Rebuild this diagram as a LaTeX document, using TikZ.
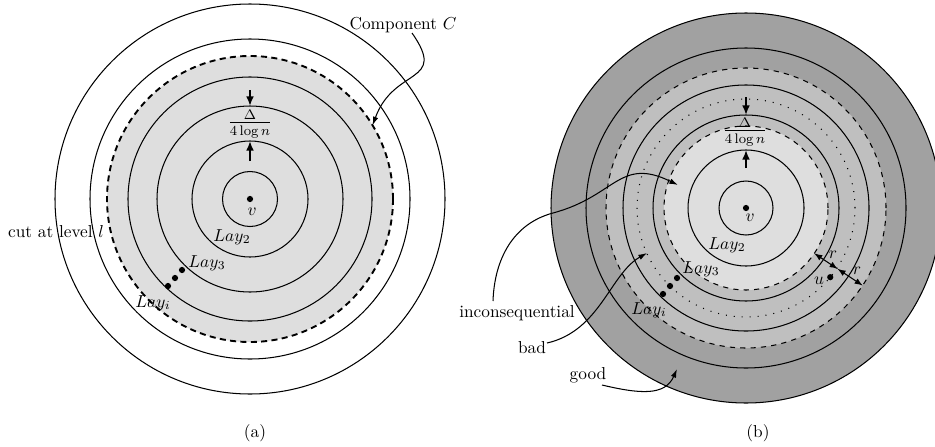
\documentclass[tikz,border=0pt]{standalone}
\usepackage{tikz}
\usetikzlibrary{arrows,arrows.meta,calc}

\begin{document}
\begin{tikzpicture}[x=0.578pt,y=0.578pt,
 ring/.style={semithick},
 cut line/.style={line width=1.1pt,dash pattern=on 3.5pt off 2.5pt},
 thin dash/.style={semithick,dashed},
 dot line/.style={semithick,loosely dotted},
 gap arrow/.style={-{Latex[length=5.5pt,width=4.5pt]},line width=1.2pt},
 pointer/.style={-{Latex[length=5pt,width=3.2pt]},semithick},
 dot/.style={circle,fill=black,inner sep=0pt,minimum size=3.6pt}]
\useasboundingbox (0,0) rectangle (935,446);
%(a)
  \coordinate (A) at (250,247);
  \fill[black!13] (A) circle (143);
  \foreach \r in {27.5,58,93,122,160,195} \draw[ring] (A) circle (\r);
  \draw[cut line] (A) circle (143);
  \node[dot] (va) at (A) {};
  \node (vlaba) at (252,234) {$v$};
  \node (lay2a) at (232,209) {$Lay_2$};
  \node (lay3a) at (207,183) {$Lay_3$};
  \node (layia) at (153,143) {$Lay_i$};
  \node[dot] (d1a) at (182,176) {};
  \node[dot] (d2a) at (175,168) {};
  \node[dot] (d3a) at (168,160) {};
  \node (fraca) at (250,322) {\large$\frac{\Delta}{4\log n}$};
  \coordinate (ta) at (250,356);
  \coordinate (ba) at (250,285);
  \draw[gap arrow] (ta) -- ($(A)+(0,93)$);
  \draw[gap arrow] (ba) -- ($(A)+(0,58)$);
  \node (cut) at (56,214) {cut at level $l$};
  \node (comp) at (403,421) {Component $C$};
  \coordinate (cs) at (412,413);
  \coordinate (ctip) at ($(A)+(31:143)$);
  \draw[pointer] (cs) to[out=-55,in=70,looseness=1.6] (ctip);
  \node (capa) at (255,13) {(a)};
%(b)
  \coordinate (B) at (746,238);
  \fill[black!37] (B) circle (195);
  \fill[black!25] (B) circle (140);
  \fill[black!13] (B) circle (82);
  \foreach \r in {27,58,93,123,160,195} \draw[ring] (B) circle (\r);
  \draw[thin dash] (B) circle (140);
  \draw[thin dash] (B) circle (82);
  \draw[dot line] (B) circle (109);
  \node[dot] (vb) at (B) {};
  \node (vlabb) at (750,228) {$v$};
  \node (lay2b) at (727,201) {$Lay_2$};
  \node (lay3b) at (701,177) {$Lay_3$};
  \node (layib) at (649,136) {$Lay_i$};
  \node[dot] (d1b) at (677,168) {};
  \node[dot] (d2b) at (670,160) {};
  \node[dot] (d3b) at (663,152) {};
  \node[dot] (u) at ($(B)+(-39.4:109)$) {};
  \node (ulab) at (819,165) {$u$};
  \node (fracb) at (745,314) {\large$\frac{\Delta}{4\log n}$};
  \coordinate (tb) at (746,349);
  \coordinate (bb) at (746,278);
  \draw[gap arrow] (tb) -- ($(B)+(0,93)$);
  \draw[gap arrow] (bb) -- ($(B)+(0,58)$);
%r
  \coordinate (r0) at ($(B)+(-33.6:82)$);
  \coordinate (r1) at ($(B)+(-33.6:110)$);
  \coordinate (r2) at ($(B)+(-33.6:140)$);
  \draw[latex-latex,semithick] (r0) -- node[above right=-2pt] (rl1) {$r$} (r1);
  \draw[latex-latex,semithick] (r1) -- node[above right=-2pt] (rl2) {$r$} (r2);
%labels
  \node (inc) at (517,133) {inconsequential};
  \coordinate (is) at (493,145);
  \coordinate (im) at (553,233);
  \coordinate (itip) at (678,261);
  \draw[pointer] (is) to[out=88,in=195] (im) to[out=15,in=154,looseness=1.3] (itip);
  \node (bad) at (532,98) {bad};
  \coordinate (bs) at (547,103);
  \coordinate (btip) at (647,193);
  \draw[pointer] (bs) .. controls (600,115) and (610,172) .. (btip);
  \node (good) at (588,71) {good};
  \coordinate (gs) at (602,61);
  \coordinate (gtip) at (677,77);
  \draw[pointer] (gs) .. controls (640,52) and (665,50) .. (gtip);
  \node (capb) at (758,13) {(b)};
\end{tikzpicture}
\end{document}
